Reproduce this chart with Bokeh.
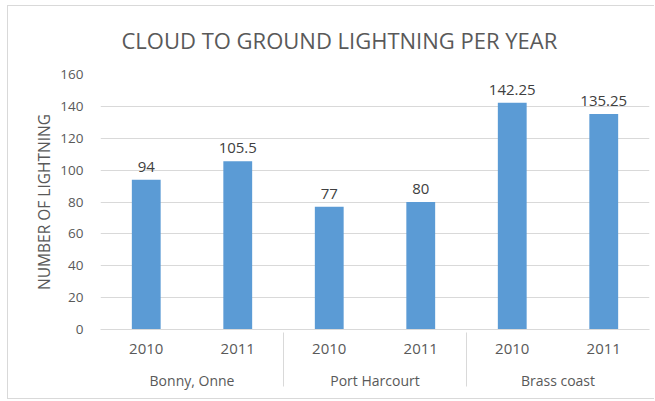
from bokeh.plotting import figure
from bokeh.models import FactorRange, Range1d, FixedTicker, ColumnDataSource, LabelSet
from bokeh.core.properties import value
from bokeh.embed import file_html
from bokeh.resources import INLINE

# ---- data ----
title_text = "CLOUD TO GROUND LIGHTNING PER YEAR"
sites = ["Bonny, Onne", "Port Harcourt", "Brass coast"]
years = ["2010", "2011"]
values = [94, 105.5, 77, 80, 142.25, 135.25]
value_labels = ["94", "105.5", "77", "80", "142.25", "135.25"]
y_ticks = [0, 20, 40, 60, 80, 100, 120, 140, 160]

factors = [(s, y) for s in sites for y in years]

FONT = "Open Sans"
TXT = "#595959"
GRID = "#d9d9d9"

src = ColumnDataSource(dict(x=factors, top=values, lab=value_labels))

p = figure(
    width=647, height=394,
    x_range=FactorRange(*factors, group_padding=0, range_padding=0, factor_padding=0),
    y_range=Range1d(0, 160),
    output_backend="svg", toolbar_location=None,
    min_border_left=92, min_border_right=6, min_border_top=68, min_border_bottom=71,
    title=title_text,
)
p.styles = {"margin-left": "7px", "margin-top": "5px",
            "border-left": "1px solid #d9d9d9", "border-top": "1px solid #d9d9d9",
            "border-bottom": "1px solid #d9d9d9"}

p.vbar(x="x", top="top", width=0.315, source=src, fill_color="#5b9bd5", line_color=None)

labels = LabelSet(x="x", y="top", text="lab", source=src, y_offset=8,
                  text_align="center", text_baseline="bottom",
                  text_font=value(FONT), text_font_size="15px", text_color="#404040")
p.add_layout(labels)

p.title.align = "left"
p.title.offset = 21
p.title.vertical_align = "top"
p.title.text_font = FONT
p.title.text_font_size = "22px"
p.title.text_font_style = "normal"
p.title.text_color = TXT
p.title.standoff = 35

p.outline_line_color = None
p.xgrid.grid_line_color = None
p.ygrid.grid_line_color = GRID

p.yaxis.ticker = FixedTicker(ticks=y_ticks)
p.yaxis.axis_line_color = None
p.yaxis.major_tick_line_color = None
p.yaxis.minor_tick_line_color = None
p.yaxis.major_tick_in = 0
p.yaxis.major_tick_out = 0
p.yaxis.major_label_standoff = 17
p.yaxis.major_label_text_font = FONT
p.yaxis.major_label_text_font_size = "13.5px"
p.yaxis.major_label_text_color = TXT
p.yaxis.axis_label = "NUMBER OF LIGHTNING"
p.yaxis.axis_label_text_font = FONT
p.yaxis.axis_label_text_font_size = "15.5px"
p.yaxis.axis_label_text_font_style = "normal"
p.yaxis.axis_label_text_color = TXT
p.yaxis.axis_label_standoff = 2

p.xaxis.axis_line_color = GRID
p.xaxis.major_tick_line_color = None
p.xaxis.major_tick_in = 0
p.xaxis.major_tick_out = 0
p.xaxis.major_label_standoff = 14
p.xaxis.major_label_text_font = FONT
p.xaxis.major_label_text_font_size = "15px"
p.xaxis.major_label_text_color = TXT
p.xaxis.group_text_font = FONT
p.xaxis.group_text_font_size = "14px"
p.xaxis.group_text_font_style = "normal"
p.xaxis.group_text_color = TXT
p.xaxis.separator_line_color = GRID
p.xaxis.separator_line_width = 1

open("out.html", "w").write(file_html(p, INLINE))
